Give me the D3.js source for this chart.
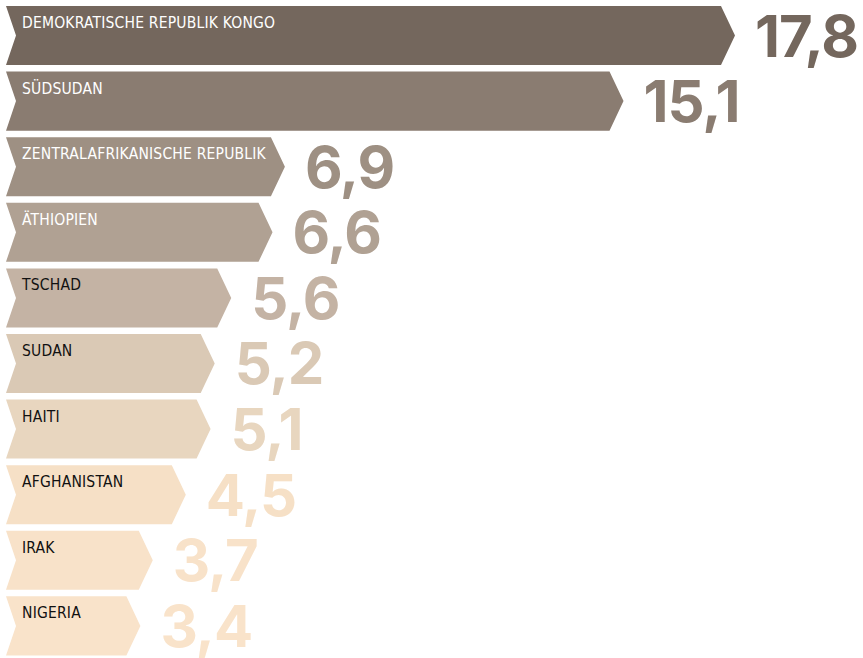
<!DOCTYPE html>
<html>
<head>
<meta charset="utf-8">
<script src="https://cdn.jsdelivr.net/npm/d3@7"></script>
<style>
  body { margin: 0; background: #fff; }
  svg { display: block; }
</style>
</head>
<body>
<svg width="863" height="658"></svg>
<script>
var countries = ["DEMOKRATISCHE REPUBLIK KONGO", "SÜDSUDAN", "ZENTRALAFRIKANISCHE REPUBLIK", "ÄTHIOPIEN",
                 "TSCHAD", "SUDAN", "HAITI", "AFGHANISTAN", "IRAK", "NIGERIA"];
var values = [17.8, 15.1, 6.9, 6.6, 5.6, 5.2, 5.1, 4.5, 3.7, 3.4];
var colors = ["#74675d", "#8a7c71", "#9e9083", "#b0a193", "#c4b3a4", "#dac9b5", "#e8d6bf", "#f6e0c6", "#f8e2c9", "#f9e3ca"];
var labelColors = ["#fff", "#fff", "#fff", "#fff", "#111", "#111", "#111", "#111", "#111", "#111"];

var svg = d3.select("svg");

var x = d3.scaleLinear().domain([0, 17.8]).range([0, 735]),
    y = d3.scaleBand().domain(countries).range([6, 655.4]).paddingInner(0.1).paddingOuter(0);

var h = y.bandwidth(),
    tipDepth = 14,
    left = 6,
    notch = 10;

function arrow(d, i) {
    var y0 = y(countries[i]), t = x(d);
    return [
        [left, y0], [t - tipDepth, y0], [t, y0 + h / 2],
        [t - tipDepth, y0 + h], [left, y0 + h], [left + notch, y0 + h / 2]
    ].map(function(p) { return p.join(","); }).join(" ");
}

var g = svg.append("g");

g.selectAll(".bar")
    .data(values)
    .enter().append("polygon")
    .attr("class", "bar")
    .attr("points", arrow)
    .attr("fill", function(d, i) { return colors[i]; });

g.selectAll(".label")
    .data(countries)
    .enter().append("text")
    .attr("class", "label")
    .attr("x", 22)
    .attr("y", function(d) { return y(d) + 22; })
    .attr("fill", function(d, i) { return labelColors[i]; })
    .style("font-family", "'DejaVu Sans Condensed', sans-serif")
    .style("font-size", "15.5px")
    .style("letter-spacing", "0.2px")
    .text(function(d) { return d; });

g.selectAll(".value")
    .data(values)
    .enter().append("text")
    .attr("class", "value")
    .attr("x", function(d) { return x(d) + 20; })
    .attr("y", function(d, i) { return y(countries[i]) + h / 2 + 21; })
    .attr("fill", function(d, i) { return colors[i]; })
    .style("font-family", "Inter, sans-serif")
    .style("font-weight", 700)
    .style("font-size", "58px")
    .style("letter-spacing", "-1px")
    .text(function(d) { return d3.format(".1f")(d).replace(".", ","); });
</script>
</body>
</html>
